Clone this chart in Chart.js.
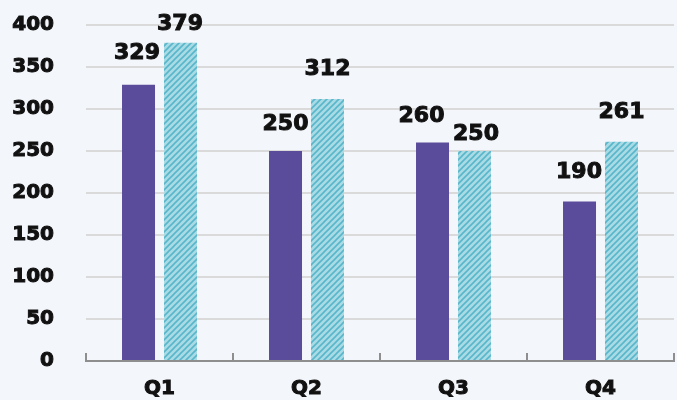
<!DOCTYPE html>
<html>
<head>
<meta charset="utf-8">
<script src="https://cdn.jsdelivr.net/npm/chart.js@4"></script>
<style>
    html, body { margin: 0; padding: 0; background: #f3f6fb; }
    #wrap { width: 677px; height: 400px; }
</style>
</head>
<body>
<div id="wrap"><canvas id="quarterChart" width="677" height="400"></canvas></div>
<script>
// chart data
const quarters = ['Q1', 'Q2', 'Q3', 'Q4'];
const seriesA = [329, 250, 260, 190];
const seriesB = [379, 312, 250, 261];
const yTicks = [0, 50, 100, 150, 200, 250, 300, 350, 400];

// label nudges (style only): [dx, baseline offset above bar top]
const nudgeA = [[-1.5, 26], [0, 21.5], [-11, 20.5], [-0.5, 23]];
const nudgeB = [[-0.5, 12.5], [0, 24], [1.5, 11.5], [0, 24]];

const FONT = "'DejaVu Sans', Verdana, sans-serif";

function makeHatch() {
    const size = 6;
    const c = document.createElement('canvas');
    c.width = size; c.height = size;
    const g = c.getContext('2d');
    g.fillStyle = '#a9dbe5';
    g.fillRect(0, 0, size, size);
    g.strokeStyle = '#58b6cb';
    g.lineWidth = 1.6;
    g.beginPath();
    g.moveTo(-1, size + 1); g.lineTo(size + 1, -1);
    g.moveTo(-1, 1); g.lineTo(1, -1);
    g.moveTo(size - 1, size + 1); g.lineTo(size + 1, size - 1);
    g.stroke();
    return g.createPattern(c, 'repeat');
}

const valueLabels = {
    id: 'valueLabels',
    afterDatasetsDraw(chart) {
        const ctx = chart.ctx;
        ctx.save();
        ctx.font = 'bold 22px ' + FONT;
        ctx.fillStyle = '#111111';
        ctx.strokeStyle = '#111111';
        ctx.lineWidth = 1;
        ctx.textAlign = 'center';
        ctx.textBaseline = 'alphabetic';
        [nudgeA, nudgeB].forEach((nudge, di) => {
            const meta = chart.getDatasetMeta(di);
            meta.data.forEach((bar, i) => {
                const v = String(chart.data.datasets[di].data[i]);
                const tx = bar.x + nudge[i][0];
                const ty = bar.y - nudge[i][1];
                ctx.strokeText(v, tx, ty);
                ctx.fillText(v, tx, ty);
            });
        });
        ctx.restore();
    }
};

const categoryTicks = {
    id: 'categoryTicks',
    afterDraw(chart) {
        const x = chart.scales.x;
        const ctx = chart.ctx;
        const bottom = chart.chartArea.bottom;
        ctx.save();
        ctx.strokeStyle = '#8e8e8e';
        ctx.lineWidth = 2;
        ctx.beginPath();
        for (let i = 0; i <= quarters.length; i++) {
            const px = Math.round(x.getPixelForValue(i - 0.5));
            ctx.moveTo(px, bottom - 8);
            ctx.lineTo(px, bottom + 1);
        }
        ctx.moveTo(x.left, bottom);
        ctx.lineTo(x.right, bottom);
        ctx.stroke();
        ctx.restore();
    }
};

const tickFont = { family: FONT, size: 20, weight: 'bold' };

new Chart(document.getElementById('quarterChart').getContext('2d'), {
    type: 'bar',
    data: {
        labels: quarters,
        datasets: [
            { label: 'A', data: seriesA, backgroundColor: '#5a4b9b', borderWidth: 0 },
            { label: 'B', data: seriesB, backgroundColor: makeHatch(), borderWidth: 0 }
        ]
    },
    options: {
        responsive: false,
        animation: false,
        devicePixelRatio: 1,
        categoryPercentage: 0.571,
        barPercentage: 0.786,
        layout: { padding: { top: 25, right: 3, left: 0, bottom: 0 } },
        plugins: { legend: { display: false }, tooltip: { enabled: false } },
        scales: {
            x: {
                grid: { display: false },
                border: { display: false },
                ticks: { color: '#111111', font: tickFont, padding: 8, textStrokeColor: '#111111', textStrokeWidth: 1 },
                afterFit(scale) {
                    scale.height = 39;
                    scale.paddingLeft = 0;
                    scale.paddingRight = 0;
                }
            },
            y: {
                min: 0,
                max: 400,
                afterBuildTicks(scale) { scale.ticks = yTicks.map(v => ({ value: v })); },
                grid: { color: '#dadada', lineWidth: 2, drawTicks: false },
                border: { display: false },
                ticks: { color: '#111111', font: tickFont, padding: 32, textStrokeColor: '#111111', textStrokeWidth: 1 },
                afterFit(scale) {
                    scale.width = 86;
                    scale.paddingTop = 0;
                    scale.paddingBottom = 0;
                }
            }
        }
    },
    plugins: [valueLabels, categoryTicks]
});
</script>
</body>
</html>
